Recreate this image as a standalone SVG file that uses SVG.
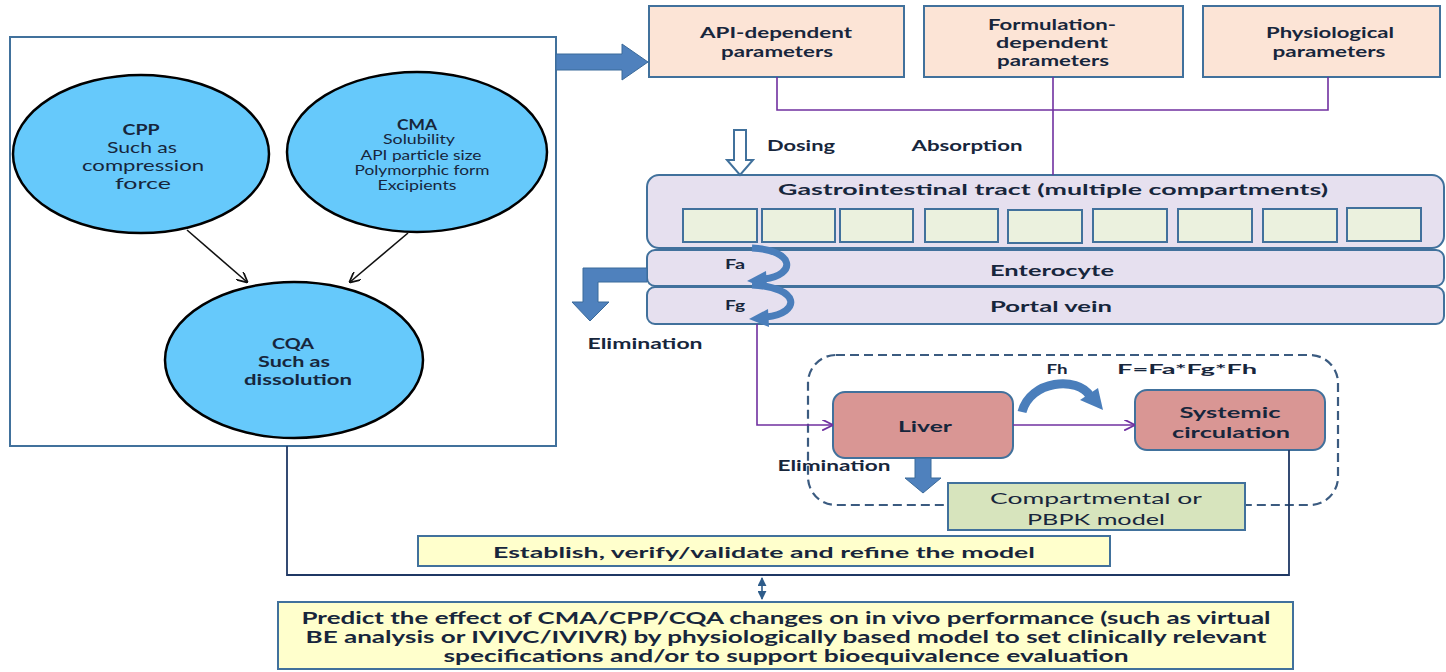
<svg xmlns="http://www.w3.org/2000/svg" width="1446" height="672" viewBox="0 0 1446 672">
<defs>
<style>
.t{font-family:Lato,"Open Sans","Liberation Sans",sans-serif;font-weight:bold;fill:#17263c;text-anchor:middle;dominant-baseline:central}
.n{font-weight:normal}
.ell{fill:#66c9fb;stroke:#000;stroke-width:2.5}
.box{stroke:#41719c;stroke-width:2}
.peach{fill:#fce4d6}
.lav{fill:#e6e0ef}
.comp{fill:#ebf1de;stroke:#41719c;stroke-width:2}
.red{fill:#d99694}
.yel{fill:#ffffcc}
.grn{fill:#d7e4bd}
.purple{stroke:#7030a0;stroke-width:1.6;fill:none}
.navy{stroke:#1f3864;stroke-width:1.8;fill:none}
.blk{stroke:#111;stroke-width:1.6;fill:none}
.barrow{fill:#4f81bd;stroke:#3a6a9a;stroke-width:1}
.curve{fill:none;stroke:#4a7ebb;stroke-width:7}
</style>
<marker id="mk" viewBox="0 0 10 10" refX="9" refY="5" markerWidth="11" markerHeight="11" markerUnits="userSpaceOnUse" orient="auto"><path d="M0,0 L10,5 L0,10" fill="none" stroke="#111" stroke-width="1.6"/></marker>
<marker id="mp" viewBox="0 0 10 10" refX="9" refY="5" markerWidth="11" markerHeight="11" markerUnits="userSpaceOnUse" orient="auto"><path d="M0,0 L10,5 L0,10" fill="none" stroke="#7030a0" stroke-width="1.6"/></marker>
<marker id="mn" viewBox="0 0 10 10" refX="9" refY="5" markerWidth="9" markerHeight="9" markerUnits="userSpaceOnUse" orient="auto-start-reverse"><path d="M0,0 L10,5 L0,10 Z" fill="#2e5c8a"/></marker>
</defs>
<rect width="1446" height="672" fill="#fff"/>

<g id="left-panel">
<rect x="10" y="37" width="546" height="409" fill="#fff" stroke="#41719c" stroke-width="2"/>
</g>

<g id="cpp">
<ellipse class="ell" cx="141" cy="154" rx="128" ry="79"/>
<text class="t" x="141" y="128" font-size="16" textLength="37" lengthAdjust="spacingAndGlyphs">CPP</text>
<text class="t n" x="142" y="146" font-size="16" textLength="70" lengthAdjust="spacingAndGlyphs">Such as</text>
<text class="t n" x="143" y="164" font-size="16" textLength="122" lengthAdjust="spacingAndGlyphs">compression</text>
<text class="t n" x="143" y="182" font-size="16" textLength="56" lengthAdjust="spacingAndGlyphs">force</text>
</g>

<g id="cma">
<ellipse class="ell" cx="417" cy="152" rx="130" ry="80"/>
<text class="t" x="417" y="123" font-size="16" textLength="40" lengthAdjust="spacingAndGlyphs">CMA</text>
<text class="t n" x="419" y="139" font-size="13" textLength="72" lengthAdjust="spacingAndGlyphs">Solubility</text>
<text class="t n" x="421" y="155" font-size="13" textLength="121" lengthAdjust="spacingAndGlyphs">API particle size</text>
<text class="t n" x="422" y="170" font-size="13" textLength="135" lengthAdjust="spacingAndGlyphs">Polymorphic form</text>
<text class="t n" x="417" y="185" font-size="13" textLength="79" lengthAdjust="spacingAndGlyphs">Excipients</text>
</g>

<g id="cqa">
<ellipse class="ell" cx="294" cy="360" rx="129" ry="78"/>
<text class="t" x="293" y="342" font-size="16" textLength="42" lengthAdjust="spacingAndGlyphs">CQA</text>
<text class="t" x="294" y="360" font-size="16" textLength="72" lengthAdjust="spacingAndGlyphs">Such as</text>
<text class="t" x="298" y="378" font-size="16" textLength="108" lengthAdjust="spacingAndGlyphs">dissolution</text>
</g>

<g id="api">
<rect class="box peach" x="649" y="6" width="255" height="71"/>
<text class="t" x="776" y="32" font-size="15" textLength="152" lengthAdjust="spacingAndGlyphs">API-dependent</text>
<text class="t" x="777" y="51" font-size="15" textLength="112" lengthAdjust="spacingAndGlyphs">parameters</text>
</g>
<g id="formulation">
<rect class="box peach" x="924" y="6" width="259" height="71"/>
<text class="t" x="1052" y="24" font-size="15" textLength="128" lengthAdjust="spacingAndGlyphs">Formulation-</text>
<text class="t" x="1052" y="42" font-size="15" textLength="112" lengthAdjust="spacingAndGlyphs">dependent</text>
<text class="t" x="1053" y="60" font-size="15" textLength="112" lengthAdjust="spacingAndGlyphs">parameters</text>
</g>
<g id="physiological">
<rect class="box peach" x="1203" y="6" width="237" height="71"/>
<text class="t" x="1330" y="32" font-size="15" textLength="128" lengthAdjust="spacingAndGlyphs">Physiological</text>
<text class="t" x="1329" y="51" font-size="15" textLength="113" lengthAdjust="spacingAndGlyphs">parameters</text>
</g>

<g id="gi">
<rect class="box lav" x="647" y="175" width="797" height="73" rx="12"/>
<text class="t" x="1053" y="188" font-size="16" textLength="550" lengthAdjust="spacingAndGlyphs">Gastrointestinal tract (multiple compartments)</text>
<rect class="comp" x="683" y="209" width="74" height="33"/>
<rect class="comp" x="762" y="209" width="73" height="33"/>
<rect class="comp" x="840" y="209" width="73" height="33"/>
<rect class="comp" x="925" y="209" width="73" height="33"/>
<rect class="comp" x="1008" y="210" width="74" height="33"/>
<rect class="comp" x="1093" y="209" width="74" height="33"/>
<rect class="comp" x="1178" y="209" width="74" height="33"/>
<rect class="comp" x="1263" y="209" width="74" height="33"/>
<rect class="comp" x="1347" y="208" width="74" height="33"/>
</g>
<g id="enterocyte">
<rect class="box lav" x="647" y="250" width="797" height="36" rx="8"/>
<text class="t" x="1052" y="269" font-size="16" textLength="124" lengthAdjust="spacingAndGlyphs">Enterocyte</text>
</g>
<g id="portal">
<rect class="box lav" x="647" y="287" width="797" height="37" rx="8"/>
<text class="t" x="1051" y="305" font-size="16" textLength="122" lengthAdjust="spacingAndGlyphs">Portal vein</text>
</g>

<g id="dashed-region">
<rect x="808" y="355" width="530" height="150" rx="28" fill="none" stroke="#3b5b80" stroke-width="2.2" stroke-dasharray="9,5"/>
</g>
<g id="liver">
<rect class="box red" x="833" y="392" width="180" height="66" rx="12"/>
<text class="t" x="925" y="425" font-size="16" textLength="54" lengthAdjust="spacingAndGlyphs">Liver</text>
</g>
<g id="systemic">
<rect class="box red" x="1135" y="390" width="190" height="60" rx="12"/>
<text class="t" x="1230" y="411" font-size="16" textLength="101" lengthAdjust="spacingAndGlyphs">Systemic</text>
<text class="t" x="1231" y="431" font-size="16" textLength="118" lengthAdjust="spacingAndGlyphs">circulation</text>
</g>
<g id="compartmental">
<rect class="box grn" x="948" y="483" width="297" height="47"/>
<text class="t n" x="1096" y="497" font-size="16" textLength="212" lengthAdjust="spacingAndGlyphs">Compartmental or</text>
<text class="t n" x="1096" y="518" font-size="16" textLength="138" lengthAdjust="spacingAndGlyphs">PBPK model</text>
</g>
<g id="establish">
<rect class="box yel" x="418" y="536" width="692" height="30"/>
<text class="t" x="764" y="551" font-size="16" textLength="542" lengthAdjust="spacingAndGlyphs">Establish, verify/validate and refine the model</text>
</g>
<g id="predict">
<rect class="box yel" x="278" y="602" width="1015" height="67"/>
<text class="t" x="786" y="617" font-size="17" textLength="969" lengthAdjust="spacingAndGlyphs">Predict the effect of CMA/CPP/CQA changes on in vivo performance (such as virtual</text>
<text class="t" x="786" y="636" font-size="17" textLength="961" lengthAdjust="spacingAndGlyphs">BE analysis or IVIVC/IVIVR) by physiologically based model to set clinically relevant</text>
<text class="t" x="786" y="655" font-size="17" textLength="685" lengthAdjust="spacingAndGlyphs">specifications and/or to support bioequivalence evaluation</text>
</g>

<g id="labels">
<text class="t" x="801" y="145" font-size="15" textLength="68" lengthAdjust="spacingAndGlyphs">Dosing</text>
<text class="t" x="967" y="145" font-size="15" textLength="111" lengthAdjust="spacingAndGlyphs">Absorption</text>
<text class="t" x="645" y="343" font-size="15" textLength="115" lengthAdjust="spacingAndGlyphs">Elimination</text>
<text class="t" x="834" y="465" font-size="15" textLength="113" lengthAdjust="spacingAndGlyphs">Elimination</text>
<text class="t" x="735" y="264" font-size="13" textLength="20" lengthAdjust="spacingAndGlyphs">Fa</text>
<text class="t" x="735" y="305" font-size="13" textLength="20" lengthAdjust="spacingAndGlyphs">Fg</text>
<text class="t" x="1057" y="369" font-size="13" textLength="21" lengthAdjust="spacingAndGlyphs">Fh</text>
<text class="t" x="1187" y="369" font-size="13" textLength="140" lengthAdjust="spacingAndGlyphs">F=Fa*Fg*Fh</text>
</g>

<g id="connectors">
<line class="blk" x1="187" y1="230" x2="247" y2="282" marker-end="url(#mk)"/>
<line class="blk" x1="408" y1="233" x2="350" y2="282" marker-end="url(#mk)"/>
<polygon class="barrow" points="556,54 622,54 622,44 648,62 622,80 622,70 556,70"/>
<polyline class="purple" points="777,77 777,110 1328,110 1328,77"/>
<line class="purple" x1="1053" y1="77" x2="1053" y2="175"/>
<polygon points="734,130 746,130 746,160 753,160 740,175 727,160 734,160" fill="#fff" stroke="#41719c" stroke-width="2"/>
<polygon class="barrow" points="647,268 583,268 583,302 572,302 590,321 609,302 598,302 598,282 647,282"/>
<path class="curve" d="M752,248 C795,250 797,275 764,279"/>
<polygon points="747,281 766,271 767,289" fill="#4a7ebb"/>
<path class="curve" d="M752,285 C800,287 802,313 766,317"/>
<polygon points="749,319 768,309 769,327" fill="#4a7ebb"/>
<polyline class="purple" points="757,324 757,425 832,425" marker-end="url(#mp)"/>
<line class="purple" x1="1013" y1="425" x2="1134" y2="425" marker-end="url(#mp)"/>
<path d="M1022,412 C1030,380 1078,376 1090,396" fill="none" stroke="#4a7ebb" stroke-width="9"/>
<polygon points="1103,410 1080,400 1098,388" fill="#4a7ebb"/>
<polygon class="barrow" points="915,458 931,458 931,478 941,478 923,493 905,478 915,478"/>
<polyline class="navy" points="287,446 287,575 1289,575 1289,450"/>
<line x1="762" y1="578" x2="762" y2="599" stroke="#2e5c8a" stroke-width="1.6" marker-start="url(#mn)" marker-end="url(#mn)"/>
</g>
</svg>
